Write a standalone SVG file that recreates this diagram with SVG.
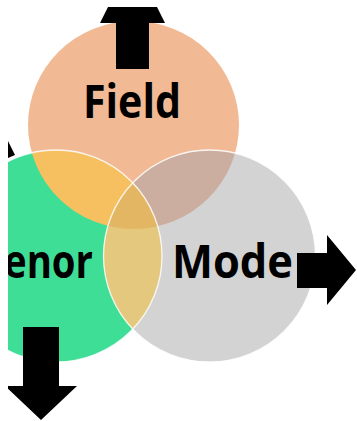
<svg xmlns="http://www.w3.org/2000/svg" width="357" height="421" viewBox="0 0 357 421">
  <defs>
    <clipPath id="frame"><rect x="8" y="7" width="349" height="414"/></clipPath>
    <clipPath id="cf"><ellipse cx="133.5" cy="125" rx="105.5" ry="104"/></clipPath>
    <clipPath id="cg"><circle cx="56" cy="256" r="106"/></clipPath>
    <clipPath id="cm"><circle cx="209.5" cy="256" r="106"/></clipPath>
    <style>
      .lbl { font-family: "Open Sans", "Liberation Sans", sans-serif; font-weight: 700; font-size: 46px; fill: #000; }
      .edge { fill: none; stroke: #ffffff; stroke-width: 1.3; stroke-opacity: 0.85; }
      .arrow { fill: #000; }
    </style>
  </defs>
  <rect width="357" height="421" fill="#ffffff"/>
  <g clip-path="url(#frame)">
    <g id="field">
      <ellipse cx="133.5" cy="125" rx="105.5" ry="104" fill="#F2B995"/>
    </g>
    <g id="tenor">
      <circle cx="56" cy="256" r="106" fill="#3EDE96"/>
    </g>
    <g id="mode">
      <circle cx="209.5" cy="256" r="106" fill="#D3D3D3"/>
    </g>
    <g id="overlaps">
      <g clip-path="url(#cf)"><circle cx="56" cy="256" r="106" fill="#F6BF60"/></g>
      <g clip-path="url(#cf)"><circle cx="209.5" cy="256" r="106" fill="#CBAE9F"/></g>
      <g clip-path="url(#cg)"><circle cx="209.5" cy="256" r="106" fill="#E4C87E"/></g>
      <g clip-path="url(#cg)"><g clip-path="url(#cf)"><circle cx="209.5" cy="256" r="106" fill="#E3B664"/></g></g>
      <circle class="edge" cx="56" cy="256" r="106"/>
      <circle class="edge" cx="209.5" cy="256" r="106"/>
    </g>
    <g id="connectors">
      <polygon class="arrow" points="116,69 116,23 100,23 108,7 157,7 165,23 149,23 149,69"/>
      <polygon class="arrow" points="297,253 327,253 327,235 356,270 327,305 327,288 297,288"/>
      <polygon class="arrow" points="23,327 59,327 59,386 77,386 41,420 5,386 23,386"/>
      <polygon class="arrow" points="8,141 15,155 8,158"/>
    </g>
    <g id="labels">
      <text class="lbl" x="83" y="118" textLength="98" lengthAdjust="spacingAndGlyphs">Field</text>
      <text class="lbl" x="172" y="278" textLength="121" lengthAdjust="spacingAndGlyphs">Mode</text>
      <text class="lbl" x="4" y="278" textLength="89" lengthAdjust="spacingAndGlyphs">enor</text>
    </g>
  </g>
</svg>
